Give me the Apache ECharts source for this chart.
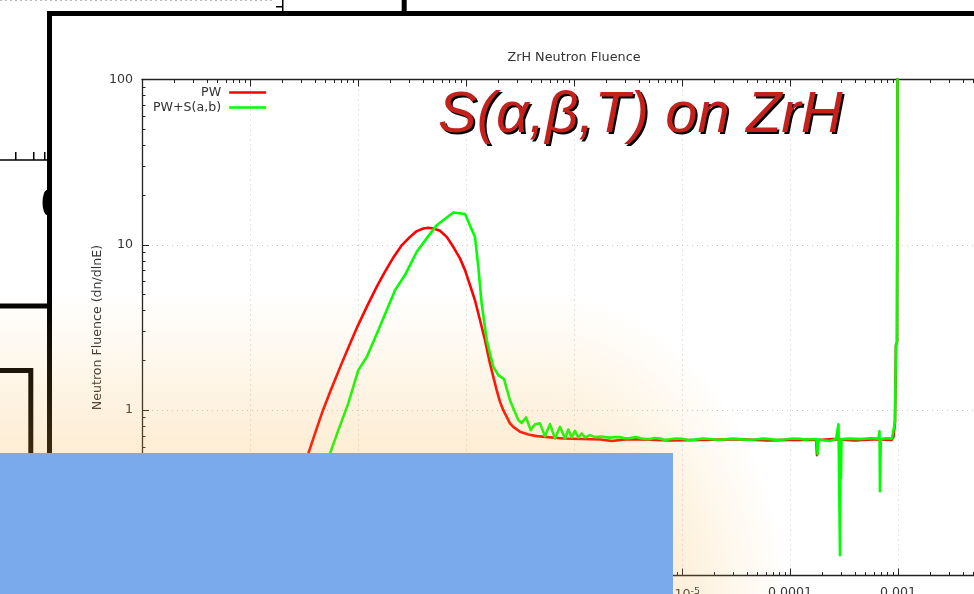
<!DOCTYPE html>
<html><head><meta charset="utf-8">
<style>html,body{margin:0;padding:0;background:#fff;overflow:hidden}#c{width:974px;height:594px}</style>
<script src="https://cdn.jsdelivr.net/npm/echarts@6/dist/echarts.min.js"></script>
</head><body><div id="c"></div>
<script>
// Values, as decades: log10(energy), log10(fluence)
const pwLogE = [-8.815,-8.460,-8.414,-8.368,-8.324,-8.259,-8.151,-8.074,-8.000,-7.919,-7.827,-7.750,-7.676,-7.595,-7.519,-7.456,-7.395,-7.349,-7.303,-7.241,-7.179,-7.118,-7.056,-7.009,-6.963,-6.917,-6.870,-6.824,-6.778,-6.747,-6.716,-6.685,-6.655,-6.623,-6.593,-6.562,-6.500,-6.423,-6.345,-6.102,-5.759,-5.650,-5.500,-5.296,-5.111,-4.833,-4.500,-4.200,-3.907,-3.757,-3.750,-3.744,-3.738,-3.600,-3.400,-3.200,-3.060,-3.042,-3.028,-3.019,-3.009,-3.004];
const pwLogF = [-0.926,-0.262,-0.172,-0.083,0,0.110,0.283,0.402,0.513,0.625,0.746,0.838,0.920,0.997,1.048,1.083,1.099,1.103,1.099,1.085,1.048,0.988,0.918,0.847,0.756,0.665,0.544,0.423,0.283,0.201,0.121,0.050,0,-0.041,-0.080,-0.101,-0.131,-0.147,-0.157,-0.171,-0.177,-0.186,-0.175,-0.178,-0.183,-0.180,-0.176,-0.183,-0.178,-0.180,-0.272,-0.275,-0.180,-0.175,-0.183,-0.175,-0.180,-0.163,-0.073,0.393,0.411,2.117];
const abLogE = [-8.800,-8.259,-8.182,-8.090,-7.997,-7.919,-7.812,-7.657,-7.565,-7.456,-7.364,-7.271,-7.118,-7.009,-6.917,-6.886,-6.855,-6.808,-6.747,-6.701,-6.648,-6.593,-6.516,-6.484,-6.444,-6.401,-6.361,-6.315,-6.269,-6.222,-6.176,-6.130,-6.083,-6.053,-6.021,-5.991,-5.960,-5.929,-5.898,-5.852,-5.806,-5.759,
  -5.667,-5.62,-5.574,-5.53,-5.481,-5.43,-5.389,-5.34,-5.296,-5.25,-5.204,-5.16,-5.111,-5.06,-5.000,-4.94,-4.880,-4.81,-4.741,-4.67,-4.602,-4.53,-4.463,-4.39,-4.324,-4.25,-4.185,-4.12,-4.046,-3.98,-3.907,-3.86,-3.815,
  -3.755,-3.750,-3.744,-3.736,-3.676,-3.630,-3.574,-3.551,-3.541,-3.537,-3.532,-3.528,-3.523,-3.444,-3.352,-3.259,-3.181,-3.171,-3.167,-3.159,-3.111,-3.056,-3.042,-3.028,-3.019,-3.009,-3.004];
const abLogF = [-1.650,-0.262,-0.121,0.041,0.242,0.322,0.484,0.726,0.817,0.958,1.039,1.119,1.196,1.186,1.048,0.867,0.645,0.423,0.262,0.212,0.188,0.060,-0.060,-0.077,-0.044,-0.121,-0.085,-0.080,-0.157,-0.085,-0.171,-0.101,-0.171,-0.117,-0.165,-0.125,-0.165,-0.141,-0.165,-0.151,-0.163,-0.160,
  -0.166,-0.162,-0.163,-0.170,-0.169,-0.163,-0.170,-0.174,-0.175,-0.168,-0.172,-0.180,-0.176,-0.171,-0.173,-0.180,-0.178,-0.171,-0.174,-0.180,-0.176,-0.172,-0.175,-0.180,-0.177,-0.172,-0.175,-0.180,-0.177,-0.171,-0.173,-0.179,-0.176,
  -0.175,-0.175,-0.266,-0.178,-0.183,-0.187,-0.175,-0.085,-0.091,-0.877,-0.178,-0.411,-0.175,-0.172,-0.175,-0.170,-0.172,-0.127,-0.490,-0.175,-0.170,-0.172,-0.163,-0.073,0.393,0.411,2.117];
const seriesNames = ['PW', 'PW+S(a,b)'];
const chartTitle = 'ZrH Neutron Fluence';
const yTitle = 'Neutron Fluence (dn/dlnE)';
const overlayTitle = 'S(\u03B1,\u03B2,T) on ZrH';
const xMin = 1e-10, xMax = 1e-2, yMin = 0.1, yMax = 100;
const minorDigits = [2,3,4,5,6,7,8,9];

function pairs(xs, ys){ return xs.map((v,i)=>[Math.pow(10,v), Math.pow(10,ys[i])]); }
function minors(lo, hi){ const r=[]; for(let e=lo;e<hi;e++) minorDigits.forEach(d=>r.push(d*Math.pow(10,e))); return r; }
const dark = '#222';
const FONT = '"DejaVu Sans"';
const FS = 12.6;
function hAxis(pos, major, labels){
  return { type:'log', logBase:10, min:xMin, max:xMax, position:pos,
    axisLine:{show:major, onZero:false, lineStyle:{color:dark,width:1.3}},
    axisTick:major?{show:true,inside:true,length:7,lineStyle:{color:dark,width:1}}
                  :{show:true,inside:true,length:3.5,customValues:minors(-10,-2),lineStyle:{color:dark,width:1}},
    axisLabel:labels?{show:true,margin:11,fontFamily:FONT,fontSize:FS,color:'#333',hideOverlap:false,
      formatter:v=>{ const e=Math.round(Math.log10(v)); if(e>=-4) return v.toFixed(-e); return '\u00D710{s|'+e+'}'; },
      rich:{s:{fontFamily:FONT,fontSize:9.5,color:'#333',verticalAlign:'top',padding:[0,0,6,0]}}}:{show:false},
    splitLine:labels?{show:true,lineStyle:{color:'#c9c9c9',type:[1,4],width:1}}:{show:false},
    minorTick:{show:false}, minorSplitLine:{show:false} };
}
function vAxis(pos, major, labels){
  return { type:'log', logBase:10, min:yMin, max:yMax, position:pos,
    name:labels?yTitle:'', nameLocation:'middle', nameGap:38, nameMoveOverlap:false,
    nameTextStyle:{fontFamily:FONT,fontSize:FS,color:'#333'},
    axisLine:{show:major, onZero:false, lineStyle:{color:dark,width:1.3}},
    axisTick:major?{show:true,inside:true,length:7,lineStyle:{color:dark,width:1}}
                  :{show:true,inside:true,length:3.5,customValues:minors(-1,2),lineStyle:{color:dark,width:1}},
    axisLabel:labels?{show:true,margin:9,fontFamily:FONT,fontSize:FS,color:'#333',formatter:v=>String(v)}:{show:false},
    splitLine:labels?{show:true,lineStyle:{color:'#c9c9c9',type:[1,4],width:1}}:{show:false},
    minorTick:{show:false}, minorSplitLine:{show:false} };
}
function bar(x,y,w,h,z){ return {type:'rect',shape:{x:x,y:y,width:w,height:h},style:{fill:'#000'},z:z||1,silent:true}; }
const GLOW='rgba(247,179,68,0.235)', GLOW0='rgba(247,179,68,0)';

const chart = echarts.init(document.getElementById('c'), null, {renderer:'canvas'});
chart.setOption({
  animation:false,
  backgroundColor:'#fff',
  title:{text:chartTitle,left:569,top:46,textAlign:'center',
    textStyle:{fontFamily:FONT,fontSize:12.8,fontWeight:'normal',color:'#333'}},
  legend:{show:true,orient:'vertical',align:'right',left:153,top:86,itemWidth:37,itemHeight:14,itemGap:2,padding:0,
    icon:'path://M0,0H37V2.6H0Z',
    textStyle:{fontFamily:FONT,fontSize:FS,color:'#333',padding:[0,3,0,0]},
    data:seriesNames},
  grid:{left:142,top:79.5,width:864,height:496,containLabel:false,outerBoundsMode:'none'},
  xAxis:[hAxis('bottom',true,true),hAxis('bottom',false,false),hAxis('top',true,false),hAxis('top',false,false)],
  yAxis:[vAxis('left',true,true),vAxis('left',false,false)],
  series:[
    {name:seriesNames[0],type:'line',xAxisIndex:0,yAxisIndex:0,data:pairs(pwLogE,pwLogF),showSymbol:false,symbol:'none',clip:true,
      lineStyle:{color:'#ff0000',width:2.6,join:'round'},itemStyle:{color:'#ff0000'},z:3},
    {name:seriesNames[1],type:'line',xAxisIndex:0,yAxisIndex:0,data:pairs(abLogE,abLogF),showSymbol:false,symbol:'none',clip:true,
      lineStyle:{color:'#00ff00',width:2.6,join:'round'},itemStyle:{color:'#00ff00'},z:4}
  ],
  graphic:{elements:[
    bar(47,11,927,5), bar(47,11,5,442),
    bar(401.7,0,5,12), bar(282,0,1.5,12), bar(276,6,6,1.5),
    bar(0,159.3,47,1.5), bar(15,152,1.5,8), bar(33,152,1.5,8), bar(44,152,1.5,8),
    {type:'sector',x:47,y:202.5,scaleX:4.5/12.5,shape:{cx:0,cy:0,r:12.5,r0:0,startAngle:Math.PI/2,endAngle:Math.PI*1.5},style:{fill:'#000'},z:1,silent:true},
    bar(0,303.5,47,5), bar(0,368,33,5), bar(28.3,368,5,90),
    {type:'line',shape:{x1:0,y1:0.5,x2:272,y2:0.5},style:{stroke:'#bbb',lineWidth:1,lineDash:[2,3]},z:1,silent:true},
    // warm glow over the page: a band on the left, fading away to the right
    {type:'rect',shape:{x:0,y:285,width:540,height:309},silent:true,z:50,
      style:{fill:new echarts.graphic.LinearGradient(0,290,0,455,[{offset:0,color:GLOW0},{offset:1,color:GLOW}],true)}},
    {type:'sector',x:540,y:620,scaleX:250/330,shape:{cx:0,cy:0,r0:0,r:330,startAngle:-Math.PI/2,endAngle:Math.PI/2},silent:true,z:50,
      style:{fill:new echarts.graphic.RadialGradient(0,0,330,[{offset:0,color:GLOW},{offset:0.5,color:GLOW},{offset:1,color:GLOW0}],true)}},
    {type:'text',x:440,y:89,z:54,silent:true,style:{text:overlayTitle,fill:'#000',font:'italic 58px "Liberation Sans"'}},
    {type:'text',x:438,y:87,z:55,silent:true,style:{text:overlayTitle,fill:'#c4211c',font:'italic 58px "Liberation Sans"'}},
    {type:'rect',shape:{x:0,y:453,width:673,height:141},style:{fill:'#7baaec'},z:60,silent:true}
  ]}
});
</script></body></html>
